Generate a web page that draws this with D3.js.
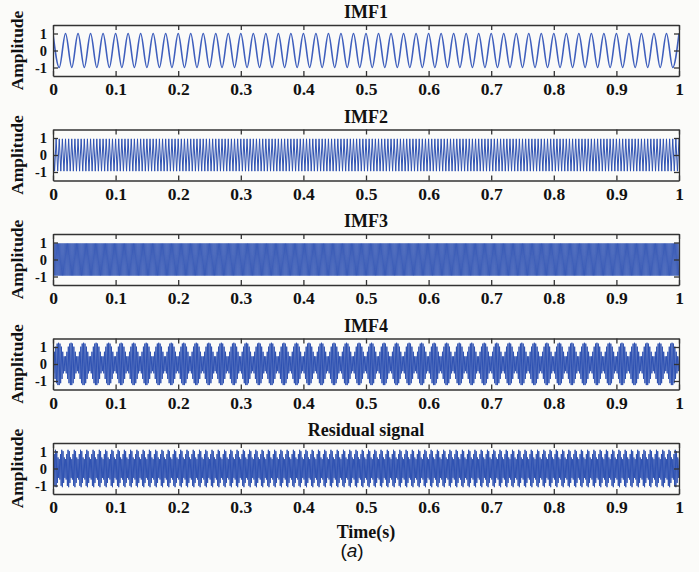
<!DOCTYPE html>
<html>
<head>
<meta charset="utf-8">
<script src="https://cdn.jsdelivr.net/npm/d3@7"></script>
<style>
  html, body { margin: 0; padding: 0; background: #fbfbf9; }
  svg { display: block; }
  .tick text { font-family: "Liberation Serif", "Times New Roman", serif; font-weight: bold; }
</style>
</head>
<body>
<div id="chart"></div>
<script>
// panel titles
var panelTitles = ["IMF1", "IMF2", "IMF3", "IMF4", "Residual signal"];

// x ticks (time in s) and y ticks (amplitude)
var xTicks = [0, 0.1, 0.2, 0.3, 0.4, 0.5, 0.6, 0.7, 0.8, 0.9, 1];
var xTickLabels = ["0", "0.1", "0.2", "0.3", "0.4", "0.5", "0.6", "0.7", "0.8", "0.9", "1"];
var yTicks = [-1, 0, 1];
var yTickLabels = ["-1", "0", "1"];

// successive extrema of one repeating pattern,
// and how many times that pattern repeats across 0 - 1 s
var imf1Peaks = [1, -1];
var imf1Repeats = 50;
var imf2Peaks = [0.95, -0.95];
var imf2Repeats = 200;
var imf3Peaks = [0.95, -0.95];
var imf3Repeats = 560;
var imf4Peaks = [0.45, -0.55, 0.72, -0.88, 1.02, -1.13, 1.2, -1.24, 1.25,
                 -1.24, 1.2, -1.13, 1.02, -0.88, 0.72, -0.55, 0.45, -0.42];
var imf4Repeats = 50;
var residualPeaks = [0.55, -0.65, 0.85, -1.02, 1.1, -1.1, 1.02, -0.85, 0.65, -0.55];
var residualRepeats = 100;

var panelPeaks = [imf1Peaks, imf2Peaks, imf3Peaks, imf4Peaks, residualPeaks];
var panelRepeats = [imf1Repeats, imf2Repeats, imf3Repeats, imf4Repeats, residualRepeats];

function Chart() {
    var self = this;
    this.width = 699;
    this.height = 572;
    this.left = 53;
    this.right = 679;
    this.top = 25;
    this.step = 104.5;
    this.panelH = 51;
    this.svg = d3.select("#chart").append("svg")
        .attr("width", this.width).attr("height", this.height);

    this.x = d3.scaleLinear().domain([0, 1]).range([this.left, this.right]);

    // turn a pattern of extrema into a time series
    this.series = function (peaks, repeats) {
        var n = peaks.length * repeats;
        var pts = [];
        for (var i = 0; i <= n; i++) {
            pts.push({ t: i / n, v: peaks[i % peaks.length] });
        }
        return pts;
    };

    this.panel = function (k) {
        var y0 = self.top + k * self.step;
        var y = d3.scaleLinear().domain([-1.5, 1.5]).range([y0 + self.panelH, y0]);
        var g = self.svg.append("g");

        var data = self.series(panelPeaks[k], panelRepeats[k]);
        var line = d3.line()
            .x(function (d) { return self.x(d.t); })
            .y(function (d) { return y(d.v); })
            .curve(k === 0 ? d3.curveMonotoneX : d3.curveLinear);

        g.append("clipPath").attr("id", "clip" + k)
            .append("rect")
            .attr("x", self.left).attr("y", y0)
            .attr("width", self.right - self.left).attr("height", self.panelH);

        g.append("path")
            .datum(data)
            .attr("clip-path", "url(#clip" + k + ")")
            .attr("fill", "none")
            .attr("stroke", k === 0 ? "#3f5fbd" : "#2f52b2")
            .attr("stroke-width", k === 0 ? 1.6 : (k === 2 ? 0.8 : 1))
            .attr("d", line);

        var bottom = d3.axisBottom(self.x).tickValues(xTicks)
            .tickFormat(function (d, i) { return xTickLabels[i]; })
            .tickSizeInner(-5).tickSizeOuter(0).tickPadding(7);
        var topAx = d3.axisTop(self.x).tickValues(xTicks).tickFormat("")
            .tickSizeInner(-5).tickSizeOuter(0);
        var leftAx = d3.axisLeft(y).tickValues(yTicks)
            .tickFormat(function (d, i) { return yTickLabels[i]; })
            .tickSizeInner(-5).tickSizeOuter(0).tickPadding(6);
        var rightAx = d3.axisRight(y).tickValues(yTicks).tickFormat("")
            .tickSizeInner(-5).tickSizeOuter(0);

        var axes = [
            g.append("g").attr("transform", "translate(0," + (y0 + self.panelH) + ")").call(bottom),
            g.append("g").attr("transform", "translate(0," + y0 + ")").call(topAx),
            g.append("g").attr("transform", "translate(" + self.left + ",0)").call(leftAx),
            g.append("g").attr("transform", "translate(" + self.right + ",0)").call(rightAx)
        ];
        axes.forEach(function (a, i) {
            a.selectAll("path, line").attr("stroke", "#333").attr("stroke-width", 1.3);
            a.selectAll("text").attr("fill", "#111").attr("font-size", i === 2 ? 14.5 : 17.5);
        });

        g.append("text")
            .attr("x", (self.left + self.right) / 2)
            .attr("y", y0 - 7)
            .attr("text-anchor", "middle")
            .attr("font-family", "Liberation Serif, Times New Roman, serif")
            .attr("font-weight", "bold")
            .attr("font-size", 18)
            .attr("fill", "#111")
            .text(panelTitles[k]);

        g.append("text")
            .attr("transform", "translate(23," + (y0 + self.panelH / 2) + ") rotate(-90)")
            .attr("text-anchor", "middle")
            .attr("font-family", "Liberation Serif, Times New Roman, serif")
            .attr("font-weight", "bold")
            .attr("font-size", 17.5)
            .attr("fill", "#111")
            .text("Amplitude");
    };

    for (var k = 0; k < panelTitles.length; k++) this.panel(k);

    this.svg.append("text")
        .attr("x", (self.left + self.right) / 2)
        .attr("y", 538)
        .attr("text-anchor", "middle")
        .attr("font-family", "Liberation Serif, Times New Roman, serif")
        .attr("font-weight", "bold")
        .attr("font-size", 18)
        .attr("fill", "#111")
        .text("Time(s)");

    var cap = this.svg.append("text")
        .attr("x", 352)
        .attr("y", 557)
        .attr("text-anchor", "middle")
        .attr("font-family", "Liberation Sans, Arial, sans-serif")
        .attr("font-size", 19)
        .attr("fill", "#111");
    cap.append("tspan").text("(");
    cap.append("tspan").attr("font-style", "italic").text("a");
    cap.append("tspan").text(")");
}

document.addEventListener("DOMContentLoaded", function () {
    new Chart();
});
</script>
</body>
</html>
